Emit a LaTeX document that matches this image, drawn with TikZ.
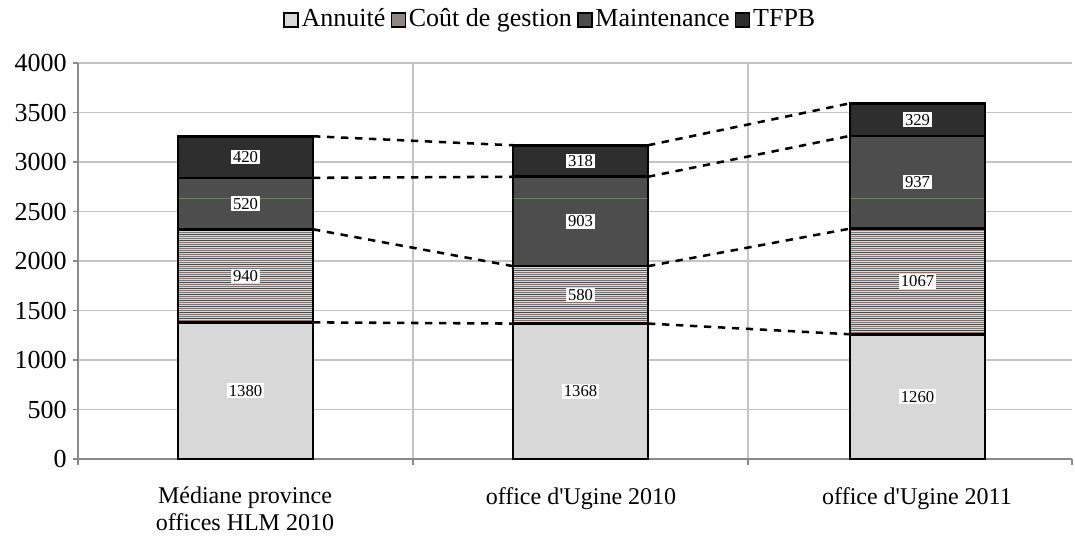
\documentclass[tikz,border=0pt]{standalone}
\usepackage{fontspec}
\setmainfont{Liberation Serif}[Ligatures=TeXOff]
\definecolor{gridc}{HTML}{C4C4C4}
\definecolor{axisc}{HTML}{8A8A8A}
\definecolor{annc}{HTML}{D8D8D8}
\definecolor{coutbase}{HTML}{DCD8D6}
\definecolor{coutr}{HTML}{A06858}
\definecolor{coutb}{HTML}{5E7C94}
\definecolor{coutd}{HTML}{4A4A4A}
\definecolor{coutleg}{HTML}{908682}
\definecolor{maintc}{HTML}{4D4D4D}
\definecolor{tfpbc}{HTML}{2E2E2E}
\definecolor{greenl}{HTML}{5E8F4E}
\newcommand\stackbar[6]{%
  \pgfmathsetmacro\sbya{#3}%
  \pgfmathsetmacro\sbyb{#3+#4}%
  \pgfmathsetmacro\sbyc{#3+#4+#5}%
  \pgfmathsetmacro\sbyd{#3+#4+#5+#6}%
  \pgfmathsetmacro\sbxr{#2+135}%
  \pgfmathsetmacro\sbxm{#2+67.5}%
  \fill[annc] (#2,0) rectangle (\sbxr,\sbya);
  \fill[coutbase] (#2,\sbya) rectangle (\sbxr,\sbyb);
  \begin{scope}
    \clip (#2,\sbya) rectangle (\sbxr,\sbyb);
    \foreach \n in {216,218,...,340} {
      \pgfmathtruncatemacro\sbcc{mod(\n/2,3)}%
      \ifcase\sbcc\def\sbcol{coutd}\or\def\sbcol{coutr}\or\def\sbcol{coutb}\fi
      \draw[\sbcol,line width=0.75pt] (#2,{(458.5-\n)/0.099}) -- (\sbxr,{(458.5-\n)/0.099});
    }
  \end{scope}
  \fill[maintc] (#2,\sbyb) rectangle (\sbxr,\sbyc);
  \fill[tfpbc] (#2,\sbyc) rectangle (\sbxr,\sbyd);
  \draw[greenl,line width=0.6pt] (#2,2636) -- (\sbxr,2636);
  \draw[seg] (#2,0) rectangle (\sbxr,\sbyd);
  \draw[seg] (#2,\sbya) -- (\sbxr,\sbya);
  \draw[seg] (#2,\sbyb) -- (\sbxr,\sbyb);
  \draw[seg] (#2,\sbyc) -- (\sbxr,\sbyc);
  \coordinate (#1-1l) at (#2,\sbya);
  \coordinate (#1-2l) at (#2,\sbyb);
  \coordinate (#1-3l) at (#2,\sbyc);
  \coordinate (#1-4l) at (#2,\sbyd);
  \coordinate (#1-1r) at (\sbxr,\sbya);
  \coordinate (#1-2r) at (\sbxr,\sbyb);
  \coordinate (#1-3r) at (\sbxr,\sbyc);
  \coordinate (#1-4r) at (\sbxr,\sbyd);
  \node[vlabel] (#1-la) at (\sbxm,{#3/2}) {#3};
  \node[vlabel] (#1-lb) at (\sbxm,{\sbya+#4/2}) {#4};
  \node[vlabel] (#1-lc) at (\sbxm,{\sbyb+#5/2}) {#5};
  \node[vlabel] (#1-ld) at (\sbxm,{\sbyc+#6/2}) {#6};
}
\begin{document}
\begin{tikzpicture}[x=0.75pt,y=-0.75pt,
  seg/.style={draw=black,line width=1.9pt},
  vlabel/.style={fill=white,inner sep=1.2pt,font=\fontsize{12.5}{13}\selectfont},
  ticklab/.style={anchor=east,inner sep=0pt,font=\fontsize{19.5}{21}\selectfont},
  catlab/.style={anchor=north,inner sep=0pt,align=center,font=\fontsize{18}{20.25}\selectfont},
  legsq/.style={draw=black,line width=0.9pt,minimum size=10.5pt,inner sep=0pt},
  legtxt/.style={inner sep=0pt,anchor=base west,font=\fontsize{19.5}{21}\selectfont},
  conn/.style={line width=1.9pt,dash pattern=on 5.5pt off 5pt},
]
\useasboundingbox[fill=white] (0,0) rectangle (1075,536);
% legend
\node[legsq,fill=annc] (ls1) at (291,20) {};
\node[legtxt] (lt1) at ([xshift=2pt,yshift=-5.2pt]ls1.east) {Annuité};
\node[legsq,fill=coutleg] (ls2) at ([xshift=9.5pt,yshift=5.2pt]lt1.base east) {};
\node[legtxt] (lt2) at ([xshift=2pt,yshift=-5.2pt]ls2.east) {Coût de gestion};
\node[legsq,fill=maintc] (ls3) at ([xshift=9.5pt,yshift=5.2pt]lt2.base east) {};
\node[legtxt] (lt3) at ([xshift=2pt,yshift=-5.2pt]ls3.east) {Maintenance};
\node[legsq,fill=tfpbc] (ls4) at ([xshift=9.5pt,yshift=5.2pt]lt3.base east) {};
\node[legtxt] (lt4) at ([xshift=2pt,yshift=-5.2pt]ls4.east) {TFPB};
% categories
\node[catlab] (c1) at (245,487) {Médiane province\\offices HLM 2010};
\node[catlab] (c2) at (581,487) {office d'Ugine 2010};
\node[catlab] (c3) at (917,487) {office d'Ugine 2011};
\begin{scope}[shift={(0pt,-344.25pt)},y=0.07425pt]
  \foreach \v in {500,1000,...,4000}
    \draw[gridc,line width=0.8pt] (78,\v) -- (1072,\v);
  \foreach \x in {413,748}
    \draw[gridc,line width=0.8pt] (\x,0) -- (\x,4000);
  \draw[axisc,line width=0.9pt] (78,0) -- (78,4000);
  \draw[axisc,line width=0.9pt] (78,0) -- (1072,0);
  \foreach \v in {0,500,...,4000} {
    \draw[axisc,line width=0.9pt] (73,\v) -- (78,\v);
    \node[ticklab] (t\v) at (67,\v) {\v};
  }
  \foreach \x in {78,413,748,1072}
    \draw[axisc,line width=0.9pt] (\x,0) -- (\x,-60);
  \stackbar{b1}{178}{1380}{940}{520}{420}
  \stackbar{b2}{513}{1368}{580}{903}{318}
  \stackbar{b3}{850}{1260}{1067}{937}{329}
  \foreach \i in {1,2,3,4} {
    \draw[conn] (b1-\i r) -- (b2-\i l);
    \draw[conn] (b2-\i r) -- (b3-\i l);
  }
\end{scope}
\end{tikzpicture}
\end{document}
